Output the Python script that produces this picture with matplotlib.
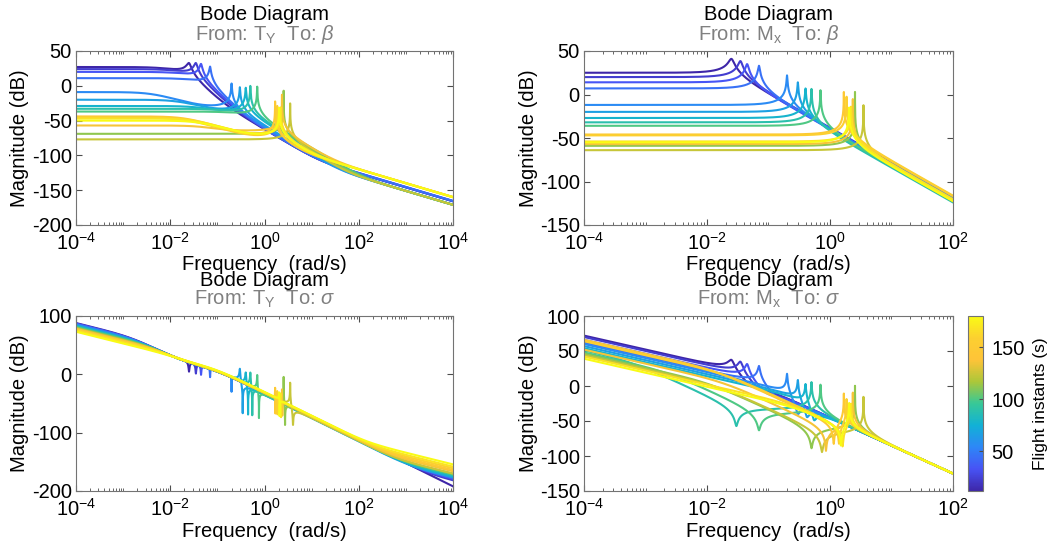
import numpy as np
import matplotlib
matplotlib.use('Agg')
import matplotlib.pyplot as plt
from matplotlib.colors import LinearSegmentedColormap, Normalize
from matplotlib.ticker import FixedLocator, LogLocator, NullFormatter, LogFormatterSciNotation

plt.rcParams['font.family'] = ['Liberation Sans', 'DejaVu Sans']
plt.rcParams['mathtext.fontset'] = 'custom'
plt.rcParams['mathtext.rm'] = 'Liberation Sans'
plt.rcParams['mathtext.it'] = 'Liberation Sans:italic'
plt.rcParams['axes.unicode_minus'] = False

# flight instants (s) and the shared lightly damped mode of each model
t_flight = [12, 23, 34, 45, 56, 67, 78, 89, 100, 112, 124, 136, 148, 158, 168, 180]
wn = [0.025, 0.035, 0.045, 0.07, 0.2, 0.3, 0.4, 0.5, 0.7, 2.55, 3.5, 2.35, 1.68, 1.86, 2.2, 2.05]
zeta = [0.08, 0.06, 0.045, 0.025, 0.01, 0.01, 0.01, 0.006, 0.0045, 0.0004, 0.0013, 0.0013, 0.0018, 0.003, 0.005, 0.005]

# T_Y -> beta : level at 1e-4 rad/s, lag, lead, high-frequency zero
k1 = [27, 24, 20, 11, -9, -20, -29, -33, -37, -69, -77, -57, -44, -46, -47, -50]
lag1 = [0.008, 0.012, 0.016, 0.025, 0.004, 0.015, 0.04, 0.1, 0.2, 1, 1, 0.05, 0.02, 0.02, 0.03, 0.04]
lead1 = [0.15, 0.3, 0.4, 0.55, 0.05, 0.1, 0.1, 0.2, 0.4, 1, 1, 0.12, 0.5, 0.5, 0.5, 0.5]
hf1 = [15, 15, 15, 15, 40, 48, 80, 100, 123, 82, 62, 32, 7, 7, 13, 10.6]

# M_x -> beta : level at 1e-4 rad/s
k2 = [25, 20, 14, 7, -12, -20, -27, -32, -36, -59, -64, -57, -46, -47, -54, -55]

# T_Y -> sigma : level at 1e-4 rad/s, lag, high-frequency zero, zero pair ratio and damping
k3 = [88, 87, 87, 86, 85, 84, 83, 82, 81, 80, 79, 78, 77, 76, 75, 73]
lag3 = [0.0015, 0.0016, 0.0016, 0.0018, 0.002, 0.0022, 0.0025, 0.003, 0.0033, 0.0037, 0.0042, 0.0047, 0.0055, 0.0065, 0.0075, 0.01]
hf3 = [1e7, 3000, 2200, 1800, 1500, 1200, 1000, 900, 800, 700, 600, 500, 400, 300, 220, 150]
r3 = [1.0, 1.0, 1.0, 1.0, 1.0, 1.15, 1.12, 1.1, 1.09, 1.07, 1.15, 1.015, 1.014, 1.014, 1.02, 1.02]
zz3 = [0.012, 0.01, 0.008, 0.005, 0.0006, 0.0004, 0.0004, 0.0004, 0.0004, 0.001, 0.0048, 0.001, 0.0007, 0.0007, 0.0008, 0.0008]

# M_x -> sigma : level at 1e-4 rad/s, lag, anti-resonance frequency and damping
k4 = [72, 70, 66, 62, 60, 57, 54, 51, 48, 46, 44, 52, 66, 64, 42, 39]
lag4 = [0.056, 0.071, 0.112, 0.178, 0.126, 0.155, 0.211, 0.00057, 0.0022, 0.0108, 0.0158, 0.0188, 0.013, 0.02, 0.235, 0.336]
wz4 = [0.05, 0.07, 0.09, 0.14, 0.3, 0.42, 0.55, 0.03, 0.07, 0.5, 0.74, 0.86, 1.15, 1.4, 1.6, 1.5]
zz4 = [0.3, 0.3, 0.3, 0.3, 0.05, 0.05, 0.05, 0.03, 0.03, 0.02, 0.02, 0.01, 0.01, 0.01, 0.01, 0.01]

# backbone of T_Y -> sigma
Z1_3 = 0.015
P2_3 = 0.1

parula = LinearSegmentedColormap.from_list('parula', [
    (0.2422, 0.1504, 0.6603), (0.2805, 0.3263, 0.9600), (0.1786, 0.5289, 0.9682),
    (0.0689, 0.6948, 0.8394), (0.2161, 0.7843, 0.5923), (0.6720, 0.7793, 0.2227),
    (0.9970, 0.7659, 0.2199), (0.9892, 0.8136, 0.1885), (0.9769, 0.9839, 0.0805)])
norm = Normalize(min(t_flight), max(t_flight))


def bode_db(level, w_n, z_n, integ=False, lags=(), leads=(), wz=None, zz=None):
    w = np.logspace(-4, 4, 4000)
    extra = [w_n] + ([wz] if wz else [])
    w = np.sort(np.concatenate([w, extra]))
    s = 1j * w
    g = np.ones_like(s)
    if integ:
        g = g / s
    for p in lags:
        g = g / (1 + s / p)
    for z in leads:
        g = g * (1 + s / z)
    g = g * w_n**2 / (s**2 + 2 * z_n * w_n * s + w_n**2)
    if wz:
        g = g * (s**2 + 2 * zz * wz * s + wz**2) / wz**2
    db = 20 * np.log10(np.abs(g))
    return w, db - db[0] + level


fig = plt.figure(figsize=(10.57, 5.49), dpi=100)
W, H = 1057.0, 549.0
boxes = [(76, 51, 453, 225), (584, 51, 953, 225), (76, 316, 453, 491), (584, 316, 953, 491)]
axs = [fig.add_axes([x0 / W, 1 - y1 / H, (x1 - x0) / W, (y1 - y0) / H]) for x0, y0, x1, y1 in boxes]

for i in range(len(t_flight)):
    c = parula(norm(t_flight[i]))
    w, m = bode_db(k1[i], wn[i], zeta[i], lags=[lag1[i]], leads=[lead1[i], hf1[i]])
    axs[0].semilogx(w, m, color=c, lw=1.5)
    w, m = bode_db(k2[i], wn[i], zeta[i])
    axs[1].semilogx(w, m, color=c, lw=1.5)
    w, m = bode_db(k3[i], wn[i], zeta[i], integ=True, lags=[lag3[i], P2_3], leads=[Z1_3, hf3[i]],
                   wz=r3[i] * wn[i], zz=zz3[i])
    axs[2].semilogx(w, m, color=c, lw=1.5)
    w, m = bode_db(k4[i], wn[i], zeta[i], integ=True, lags=[lag4[i]], wz=wz4[i], zz=zz4[i])
    axs[3].semilogx(w, m, color=c, lw=1.5)

xlims = [(1e-4, 1e4), (1e-4, 1e2), (1e-4, 1e4), (1e-4, 1e2)]
ylims = [(-200, 50), (-150, 50), (-200, 100), (-150, 100)]
ysteps = [50, 50, 100, 50]
for ax, xl, yl, ys in zip(axs, xlims, ylims, ysteps):
    ax.set_xlim(xl)
    ax.set_ylim(yl)
    ax.xaxis.set_major_locator(FixedLocator(10.0 ** np.arange(np.log10(xl[0]), np.log10(xl[1]) + 1, 2)))
    ax.xaxis.set_major_formatter(LogFormatterSciNotation())
    ax.xaxis.set_minor_locator(LogLocator(base=10, subs=np.arange(1, 10), numticks=50))
    ax.xaxis.set_minor_formatter(NullFormatter())
    ax.set_yticks(np.arange(yl[0], yl[1] + 1, ys))
    ax.tick_params(which='both', direction='in', top=True, right=True, labelsize=14.5,
                   color='0.3', labelcolor='black')
    ax.tick_params(axis='x', pad=5)
    ax.tick_params(axis='y', pad=3)
    ax.tick_params(which='major', length=4)
    ax.tick_params(which='minor', length=2)
    for sp in ax.spines.values():
        sp.set_color('0.45')
        sp.set_linewidth(0.8)
    ax.set_xlabel('Frequency  (rad/s)', fontsize=14.5)
    ax.set_ylabel('Magnitude (dB)', fontsize=14.5)

axs[0].xaxis.set_label_coords(0.5, -0.17)
axs[1].xaxis.set_label_coords(0.5, -0.17)
axs[2].xaxis.set_label_coords(0.5, -0.175)
axs[3].xaxis.set_label_coords(0.5, -0.175)
axs[0].yaxis.set_label_coords(-0.125, 0.5)
axs[2].yaxis.set_label_coords(-0.125, 0.5)
axs[1].yaxis.set_label_coords(-0.125, 0.5)
axs[3].yaxis.set_label_coords(-0.125, 0.5)

subtitles = [r'From: T$_{\mathrm{Y}}$  To: $\it{\beta}$', r'From: M$_{\mathrm{x}}$  To: $\it{\beta}$',
             r'From: T$_{\mathrm{Y}}$  To: $\it{\sigma}$', r'From: M$_{\mathrm{x}}$  To: $\it{\sigma}$']
title_y = [(15, 34), (15, 34), (281, 299), (281, 299)]
for ax, (x0, y0, x1, y1), sub, (ty, sy) in zip(axs, boxes, subtitles, title_y):
    xc = (x0 + x1) / 2 / W
    fig.text(xc, 1 - ty / H, 'Bode Diagram', ha='center', va='center', fontsize=14.5)
    fig.text(xc, 1 - sy / H, sub, ha='center', va='center', fontsize=14.5, color='0.5')

cax = fig.add_axes([968 / W, 1 - 491 / H, 15 / W, 175 / H])
sm = plt.cm.ScalarMappable(cmap=parula, norm=norm)
cb = fig.colorbar(sm, cax=cax)
cb.set_ticks([50, 100, 150])
cb.ax.tick_params(labelsize=14.5, direction='in', length=3, color='0.3', pad=6)
cb.outline.set_edgecolor('0.45')
cb.set_label('Flight instants (s)', fontsize=12.5, labelpad=6)

fig.savefig('out.png', dpi=100)
